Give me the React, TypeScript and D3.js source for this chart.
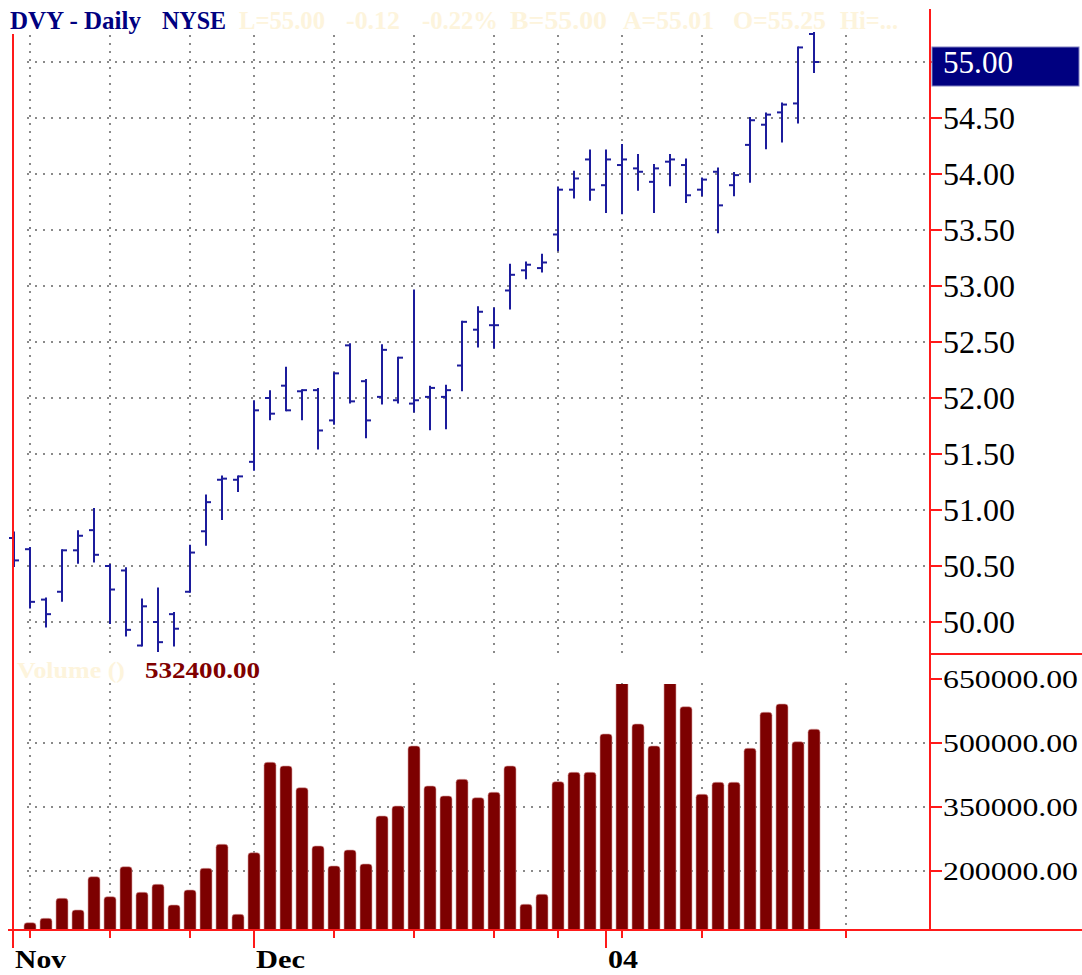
import { useEffect, useRef } from "react";
import * as d3 from "d3";

// trading days, Nov 7 2003 .. Jan 22 2004
const dates = [
  "2003-11-07", "2003-11-10", "2003-11-11", "2003-11-12", "2003-11-13", "2003-11-14",
  "2003-11-17", "2003-11-18", "2003-11-19", "2003-11-20", "2003-11-21",
  "2003-11-24", "2003-11-25", "2003-11-26", "2003-11-28",
  "2003-12-01", "2003-12-02", "2003-12-03", "2003-12-04", "2003-12-05",
  "2003-12-08", "2003-12-09", "2003-12-10", "2003-12-11", "2003-12-12",
  "2003-12-15", "2003-12-16", "2003-12-17", "2003-12-18", "2003-12-19",
  "2003-12-22", "2003-12-23", "2003-12-24", "2003-12-26",
  "2003-12-29", "2003-12-30", "2003-12-31",
  "2004-01-02", "2004-01-05", "2004-01-06", "2004-01-07", "2004-01-08", "2004-01-09",
  "2004-01-12", "2004-01-13", "2004-01-14", "2004-01-15", "2004-01-16",
  "2004-01-20", "2004-01-21", "2004-01-22",
];

const opens = [
  50.75, 50.65, 50.2, 50.27, 50.64, 50.82, 50.5, 50.46, 49.79, 50.0, 50.07,
  50.27, 50.81, 51.27, 51.27, 51.43, 52.0, 52.11, 52.06, 52.07, 51.8,
  52.47, 52.15, 52.01, 51.98, 51.95, 52.01, 52.01, 52.29, 52.61, 52.65,
  52.96, 53.14, 53.16, 53.46, 53.86, 54.13, 53.9, 54.08, 54.05, 53.93,
  54.11, 54.08, 53.86, 54.02, 53.9, 54.26, 54.44, 54.55, 54.63, 55.25,
];
const highs = [
  50.8, 50.66, 50.21, 50.64, 50.81, 51.01, 50.51, 50.48, 50.2, 50.3, 50.08,
  50.68, 51.13, 51.3, 51.3, 51.97, 52.06, 52.27, 52.07, 52.08, 52.22,
  52.48, 52.16, 52.47, 52.36, 52.96, 52.1, 52.11, 52.68, 52.81, 52.8,
  53.19, 53.21, 53.28, 53.88, 54.02, 54.21, 54.21, 54.26, 54.17, 54.08,
  54.17, 54.13, 53.96, 54.05, 54.01, 54.5, 54.54, 54.63, 55.13, 55.26,
];
const lows = [
  50.5, 50.13, 49.96, 50.19, 50.53, 50.54, 49.99, 49.88, 49.79, 49.74, 49.79,
  50.27, 50.69, 50.92, 51.17, 51.36, 51.81, 51.89, 51.81, 51.55, 51.77,
  51.96, 51.65, 51.95, 51.96, 51.88, 51.72, 51.73, 52.07, 52.46, 52.45,
  52.8, 53.07, 53.13, 53.32, 53.79, 53.77, 53.66, 53.65, 53.86, 53.66,
  53.9, 53.75, 53.81, 53.48, 53.81, 53.93, 54.23, 54.29, 54.46, 54.91,
];
const closes = [
  50.55, 50.18, 50.07, 50.64, 50.77, 50.6, 50.29, 49.93, 50.14, 49.82, 49.94,
  50.62, 51.07, 51.28, 51.3, 51.89, 51.86, 51.89, 52.07, 51.71, 52.22,
  51.97, 51.8, 52.43, 52.36, 51.98, 52.09, 52.07, 52.68, 52.77, 52.65,
  53.1, 53.19, 53.21, 53.86, 53.96, 53.86, 54.13, 54.13, 54.02, 54.05,
  54.13, 53.81, 53.95, 53.72, 53.99, 54.48, 54.53, 54.62, 55.13, 55.0,
];
const volumes = [
  0, 78800, 89100, 136000, 108600, 186600, 139800, 210100, 150100, 168800, 120300,
  155500, 206300, 262600, 98500, 242900, 454800, 446100, 395200, 258600, 211700,
  249200, 216400, 328900, 352300, 493000, 399200, 375800, 414900, 371800, 384500,
  446100, 122000, 145400, 409300, 431300, 431300, 521100, 660000, 544500, 493000,
  660000, 585100, 379800, 407900, 407900, 487600, 572000, 591400, 503000, 532400,
];

const priceTicks = [50, 50.5, 51, 51.5, 52, 52.5, 53, 53.5, 54, 54.5, 55];
const volumeTicks = [200000, 350000, 500000, 650000];
// weekly ticks (index into dates, 52 = future Monday Jan 26)
const weekTicks = [1, 6, 11, 15, 20, 25, 30, 34, 37, 38, 43, 52];
const gridTicks = [1, 6, 11, 15, 20, 25, 30, 34, 38, 43, 52];
const monthTicks = [
  { idx: 0, label: "Nov", w: 51 },
  { idx: 15, label: "Dec", w: 49 },
  { idx: 37, label: "04", w: 30 },
];

const W = 1082;
const H = 975;
const LEFT = 13;
const RIGHT = 930;
const PRICE_TOP = 35;
const PRICE_BOTTOM = 653;
const VOL_TOP = 683;
const BOTTOM = 930;
const SERIF = "'Liberation Serif', 'Times New Roman', serif";
const RED = "#ff1a1a";
const BLUE = "#1c1c9c";

export default function App() {
  const svgRef = useRef<SVGSVGElement>(null);

  useEffect(() => {
    const svg = d3.select(svgRef.current);
    svg.selectAll("*").remove();
    svg.attr("width", W).attr("height", H).attr("viewBox", `0 0 ${W} ${H}`);

    svg.append("rect").attr("width", W).attr("height", H).attr("fill", "#ffffff");

    const x = d3.scaleLinear().domain([0, 52]).range([14, 846]);
    const y = d3.scaleLinear().domain([50, 55]).range([622, 62]);
    const yv = d3.scaleLinear().domain([200000, 650000]).range([871, 679]);

    // clip for volume pane
    svg.append("clipPath").attr("id", "volclip")
      .append("rect").attr("x", LEFT).attr("y", 684).attr("width", RIGHT - LEFT).attr("height", BOTTOM - 684);

    const grid = svg.append("g")
      .attr("stroke", "#8a8a8a")
      .attr("stroke-width", 2)
      .attr("stroke-dasharray", "2,6");

    // horizontal grid - price
    priceTicks.forEach((p) => {
      grid.append("line")
        .attr("x1", LEFT + 14).attr("x2", RIGHT)
        .attr("y1", y(p)).attr("y2", y(p));
    });
    // horizontal grid - volume
    volumeTicks.filter((v) => v < 650000).forEach((v) => {
      grid.append("line")
        .attr("x1", LEFT + 14).attr("x2", RIGHT)
        .attr("y1", yv(v)).attr("y2", yv(v));
    });
    // vertical grid
    gridTicks.forEach((i) => {
      grid.append("line")
        .attr("x1", x(i)).attr("x2", x(i))
        .attr("y1", PRICE_TOP).attr("y2", PRICE_BOTTOM);
      grid.append("line")
        .attr("x1", x(i)).attr("x2", x(i))
        .attr("y1", VOL_TOP).attr("y2", BOTTOM);
    });

    // OHLC bars
    const bars = svg.append("g").attr("stroke", BLUE).attr("stroke-width", 2);
    dates.forEach((_, i) => {
      const cx = Math.round(x(i));
      bars.append("line")
        .attr("x1", cx).attr("x2", cx)
        .attr("y1", y(highs[i]) - 1).attr("y2", y(lows[i]) + 1);
      bars.append("line")
        .attr("x1", cx - 5).attr("x2", cx)
        .attr("y1", y(opens[i])).attr("y2", y(opens[i]));
      bars.append("line")
        .attr("x1", cx).attr("x2", cx + 5)
        .attr("y1", y(closes[i])).attr("y2", y(closes[i]));
    });

    // volume bars
    const vol = svg.append("g").attr("clip-path", "url(#volclip)");
    const bw = 12;
    const r = 3;
    volumes.forEach((v, i) => {
      if (!v) return;
      const x0 = x(i) - bw / 2;
      const x1 = x(i) + bw / 2;
      const top = yv(v);
      vol.append("path")
        .attr("d", `M${x0},${BOTTOM} V${top + r} Q${x0},${top} ${x0 + r},${top} H${x1 - r} Q${x1},${top} ${x1},${top + r} V${BOTTOM} Z`)
        .attr("fill", "#7d0000")
        .attr("stroke", "#d8a0a0")
        .attr("stroke-width", 0.6);
    });

    // axes
    const axes = svg.append("g").attr("stroke", RED).attr("stroke-width", 2);
    axes.append("line").attr("x1", LEFT).attr("x2", LEFT).attr("y1", 34).attr("y2", 948);
    axes.append("line").attr("x1", RIGHT).attr("x2", RIGHT).attr("y1", 9).attr("y2", BOTTOM);
    axes.append("line").attr("x1", 8).attr("x2", W).attr("y1", BOTTOM).attr("y2", BOTTOM);
    axes.append("line").attr("x1", RIGHT).attr("x2", W).attr("y1", 654).attr("y2", 654);

    weekTicks.forEach((i) => {
      axes.append("line")
        .attr("x1", x(i)).attr("x2", x(i))
        .attr("y1", BOTTOM).attr("y2", BOTTOM + 8);
    });
    monthTicks.forEach((m) => {
      const mx = m.idx === 0 ? LEFT : x(m.idx);
      axes.append("line")
        .attr("x1", mx).attr("x2", mx)
        .attr("y1", BOTTOM).attr("y2", BOTTOM + 18);
      svg.append("text")
        .attr("x", mx + 2)
        .attr("y", 968)
        .attr("font-family", SERIF)
        .attr("font-weight", "bold")
        .attr("font-size", 26)
        .attr("textLength", m.w)
        .attr("lengthAdjust", "spacingAndGlyphs")
        .attr("fill", "#000")
        .text(m.label);
    });

    priceTicks.forEach((p) => {
      axes.append("line")
        .attr("x1", RIGHT).attr("x2", RIGHT + 12)
        .attr("y1", y(p)).attr("y2", y(p));
    });
    volumeTicks.forEach((v) => {
      axes.append("line")
        .attr("x1", RIGHT).attr("x2", RIGHT + 12)
        .attr("y1", yv(v)).attr("y2", yv(v));
    });

    // price labels
    priceTicks.forEach((p) => {
      if (p === 55) return;
      svg.append("text")
        .attr("x", 943)
        .attr("y", y(p) + 11)
        .attr("font-family", SERIF)
        .attr("font-size", 31)
        .attr("textLength", 72)
        .attr("lengthAdjust", "spacingAndGlyphs")
        .attr("fill", "#000")
        .text(p.toFixed(2));
    });

    // last price box
    const last = closes[closes.length - 1];
    svg.append("rect")
      .attr("x", 932).attr("y", 47).attr("width", 147).attr("height", 39)
      .attr("fill", "#000080")
      .attr("stroke", "#8080c0")
      .attr("stroke-width", 1);
    svg.append("text")
      .attr("x", 943)
      .attr("y", y(last) + 11)
      .attr("font-family", SERIF)
      .attr("font-size", 31)
      .attr("textLength", 70)
      .attr("lengthAdjust", "spacingAndGlyphs")
      .attr("fill", "#ffffff")
      .text(last.toFixed(2));

    // volume labels
    volumeTicks.forEach((v) => {
      svg.append("text")
        .attr("x", 943)
        .attr("y", yv(v) + 9)
        .attr("font-family", SERIF)
        .attr("font-size", 25)
        .attr("textLength", 135)
        .attr("lengthAdjust", "spacingAndGlyphs")
        .attr("fill", "#000")
        .text(v.toFixed(2));
    });

    // header
    svg.append("text")
      .attr("x", 10).attr("y", 29)
      .attr("font-family", SERIF).attr("font-weight", "bold").attr("font-size", 26)
      .attr("fill", "#000080")
      .attr("textLength", 131).attr("lengthAdjust", "spacingAndGlyphs")
      .text("DVY - Daily");
    svg.append("text")
      .attr("x", 162).attr("y", 29)
      .attr("font-family", SERIF).attr("font-weight", "bold").attr("font-size", 26)
      .attr("fill", "#000080")
      .attr("textLength", 64).attr("lengthAdjust", "spacingAndGlyphs")
      .text("NYSE");

    const quote = [
      { x: 239, w: 86, t: "L=55.00" },
      { x: 346, w: 54, t: "-0.12" },
      { x: 422, w: 76, t: "-0.22%" },
      { x: 510, w: 97, t: "B=55.00" },
      { x: 623, w: 91, t: "A=55.01" },
      { x: 733, w: 93, t: "O=55.25" },
      { x: 840, w: 58, t: "Hi=..." },
    ];
    quote.forEach((q) => {
      svg.append("text")
        .attr("x", q.x).attr("y", 29)
        .attr("font-family", SERIF).attr("font-weight", "bold").attr("font-size", 26)
        .attr("fill", "#fdf4dc")
        .attr("textLength", q.w).attr("lengthAdjust", "spacingAndGlyphs")
        .text(q.t);
    });

    // volume header
    svg.append("text")
      .attr("x", 17).attr("y", 678)
      .attr("font-family", SERIF).attr("font-weight", "bold").attr("font-size", 24)
      .attr("fill", "#fdf4dc")
      .attr("textLength", 108).attr("lengthAdjust", "spacingAndGlyphs")
      .text("Volume  ()");
    svg.append("text")
      .attr("x", 145).attr("y", 678)
      .attr("font-family", SERIF).attr("font-weight", "bold").attr("font-size", 24)
      .attr("fill", "#800000")
      .attr("textLength", 115).attr("lengthAdjust", "spacingAndGlyphs")
      .text(volumes[volumes.length - 1].toFixed(2));
  }, []);

  return (
    <svg ref={svgRef} style={{ position: "absolute", left: 0, top: 0, display: "block" }} />
  );
}
